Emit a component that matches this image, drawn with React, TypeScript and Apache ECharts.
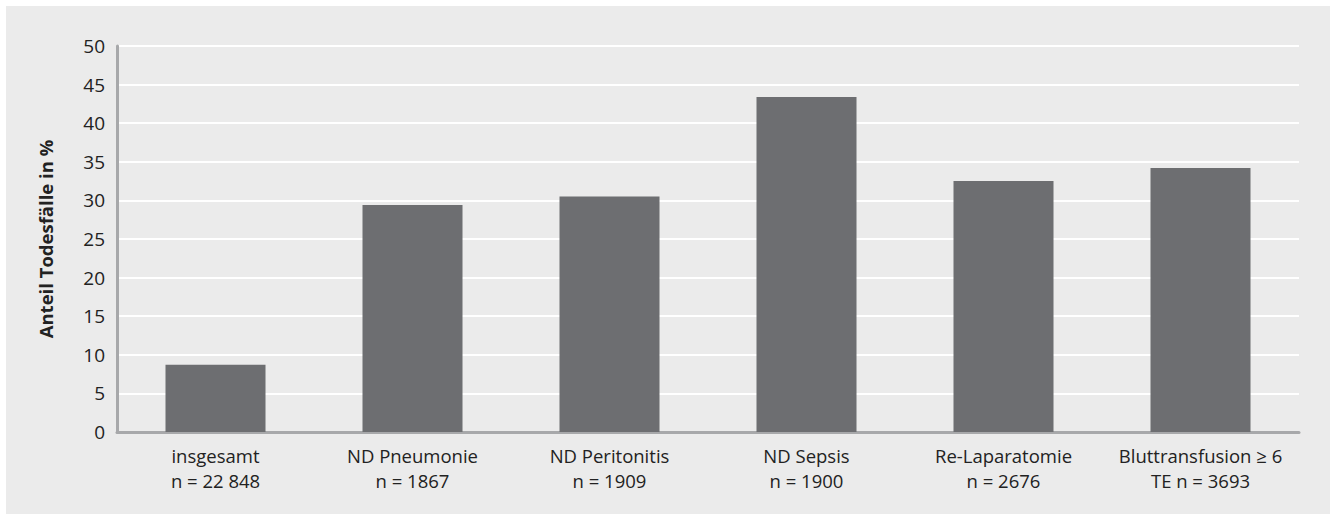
import React, { useEffect, useRef } from "react";
import * as echarts from "echarts";

const categories = [
  "insgesamt\nn = 22 848",
  "ND Pneumonie\nn = 1867",
  "ND Peritonitis\nn = 1909",
  "ND Sepsis\nn = 1900",
  "Re-Laparatomie\nn = 2676",
  "Bluttransfusion ≥ 6\nTE n = 3693",
];
const values = [8.7, 29.4, 30.5, 43.4, 32.5, 34.2];
const yAxisTitle = "Anteil Todesfälle in %";

export default function App() {
  const ref = useRef<HTMLDivElement>(null);
  useEffect(() => {
    document.body.style.margin = "0";
    const chart = echarts.init(ref.current!, null, { renderer: "svg" });
    chart.setOption({
      animation: false,
      backgroundColor: "transparent",
      grid: { left: 117, right: 36, top: 46, bottom: 83, containLabel: false },
      xAxis: {
        type: "category",
        data: categories,
        axisLine: { lineStyle: { color: "#a7a8aa", width: 3 } },
        axisTick: { show: false },
        axisLabel: {
          interval: 0,
          hideOverlap: false,
          color: "#222",
          fontSize: 18.5,
          fontFamily: "Open Sans",
          lineHeight: 25,
          margin: 11,
        },
      },
      yAxis: {
        type: "value",
        min: 0,
        max: 50,
        interval: 5,
        name: yAxisTitle,
        nameLocation: "middle",
        nameGap: 62,
        nameTextStyle: {
          fontSize: 18.5,
          fontWeight: "bold",
          color: "#222",
          fontFamily: "Open Sans",
        },
        axisLine: { show: true, lineStyle: { color: "#a7a8aa", width: 3 } },
        axisTick: { show: false },
        axisLabel: {
          color: "#222",
          fontSize: 19,
          fontFamily: "Open Sans",
          margin: 12,
        },
        splitLine: { lineStyle: { color: "#ffffff", width: 2 } },
      },
      series: [
        {
          type: "bar",
          data: values,
          barWidth: 100,
          itemStyle: { color: "#6d6e71" },
        },
      ],
    });
    return () => chart.dispose();
  }, []);
  return (
    <div style={{ position: "relative", width: 1335, height: 515, background: "#fff" }}>
      <div
        style={{
          position: "absolute",
          left: 6,
          top: 6,
          width: 1324,
          height: 508,
          background: "#ebebeb",
        }}
      />
      <div ref={ref} style={{ position: "absolute", left: 0, top: 0, width: 1335, height: 515 }} />
    </div>
  );
}
